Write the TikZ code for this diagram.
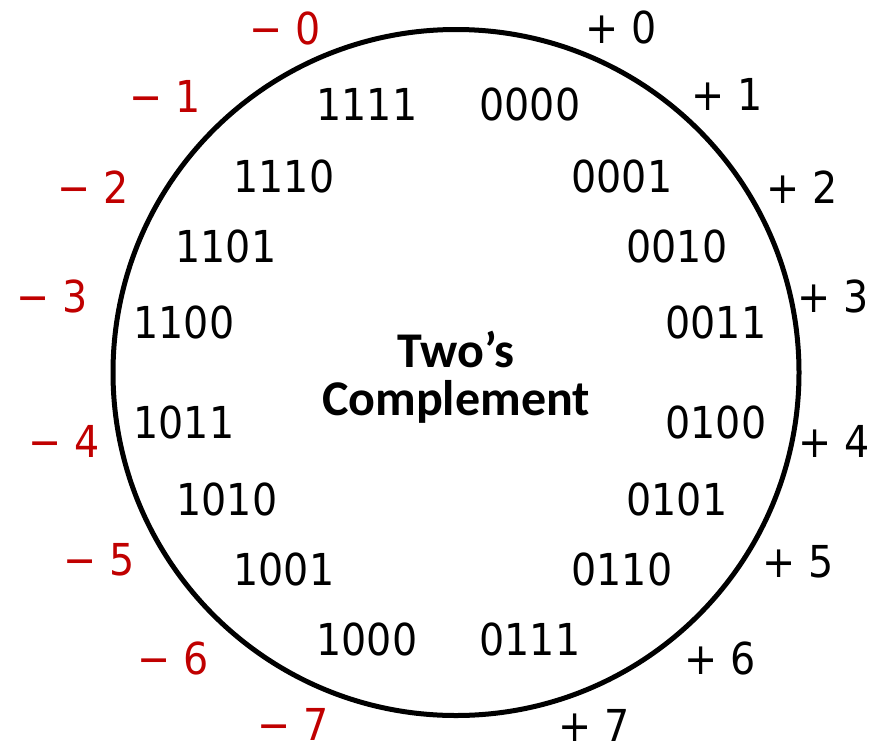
\documentclass[tikz,border=0pt]{standalone}
\usepackage{fontspec}
\setmainfont{DejaVu Sans Condensed}
\newfontfamily\titlefont{Carlito}
\definecolor{negred}{RGB}{192,0,0}
\begin{document}
\begin{tikzpicture}[x=1pt,y=-1pt,
  code/.style={font=\fontsize{44}{48}\selectfont, anchor=base, inner sep=0pt},
  neglbl/.style={code, text=negred},
  poslbl/.style={code, text=black},
  ttl/.style={font=\titlefont\bfseries\fontsize{50}{54}\selectfont, anchor=base, inner sep=0pt}]
\useasboundingbox (0,0) rectangle (888,745);
\node[draw, line width=5pt, circle, minimum size=686pt, inner sep=0pt] (ring) at (456,372.5) {};
% codes
\node[code] (c1111) at (367,120) {1111};
\node[code] (c0000) at (530,120) {0000};
\node[code] (c1110) at (284,192) {1110};
\node[code] (c0001) at (622,192) {0001};
\node[code] (c1101) at (226,262) {1101};
\node[code] (c0010) at (677,262) {0010};
\node[code] (c1100) at (184,338) {1100};
\node[code] (c0011) at (716,338) {0011};
\node[code] (c1011) at (184,438) {1011};
\node[code] (c0100) at (716,438) {0100};
\node[code] (c1010) at (227,515) {1010};
\node[code] (c0101) at (677,515) {0101};
\node[code] (c1001) at (284,585) {1001};
\node[code] (c0110) at (622,585) {0110};
\node[code] (c1000) at (367,655) {1000};
\node[code] (c0111) at (530,655) {0111};
% negative labels
\node[neglbl] (m0) at (285,44) {− 0};
\node[neglbl] (m1) at (165,112) {− 1};
\node[neglbl] (m2) at (93,203) {− 2};
\node[neglbl] (m3) at (52,312) {− 3};
\node[neglbl] (m4) at (64,457) {− 4};
\node[neglbl] (m5) at (99,575) {− 5};
\node[neglbl] (m6) at (173,674) {− 6};
\node[neglbl] (m7) at (293,740) {− 7};
% positive labels
\node[poslbl] (p0) at (621,43) {+ 0};
\node[poslbl] (p1) at (727,110) {+ 1};
\node[poslbl] (p2) at (802,203) {+ 2};
\node[poslbl] (p3) at (833,312) {+ 3};
\node[poslbl] (p4) at (834,457) {+ 4};
\node[poslbl] (p5) at (798,577) {+ 5};
\node[poslbl] (p6) at (720,674) {+ 6};
\node[poslbl] (p7) at (594,741) {+ 7};
% title
\node[ttl] (t1) at (456,367) {Two’s};
\node[ttl] (t2) at (456,415) {Complement};
\end{tikzpicture}
\end{document}
